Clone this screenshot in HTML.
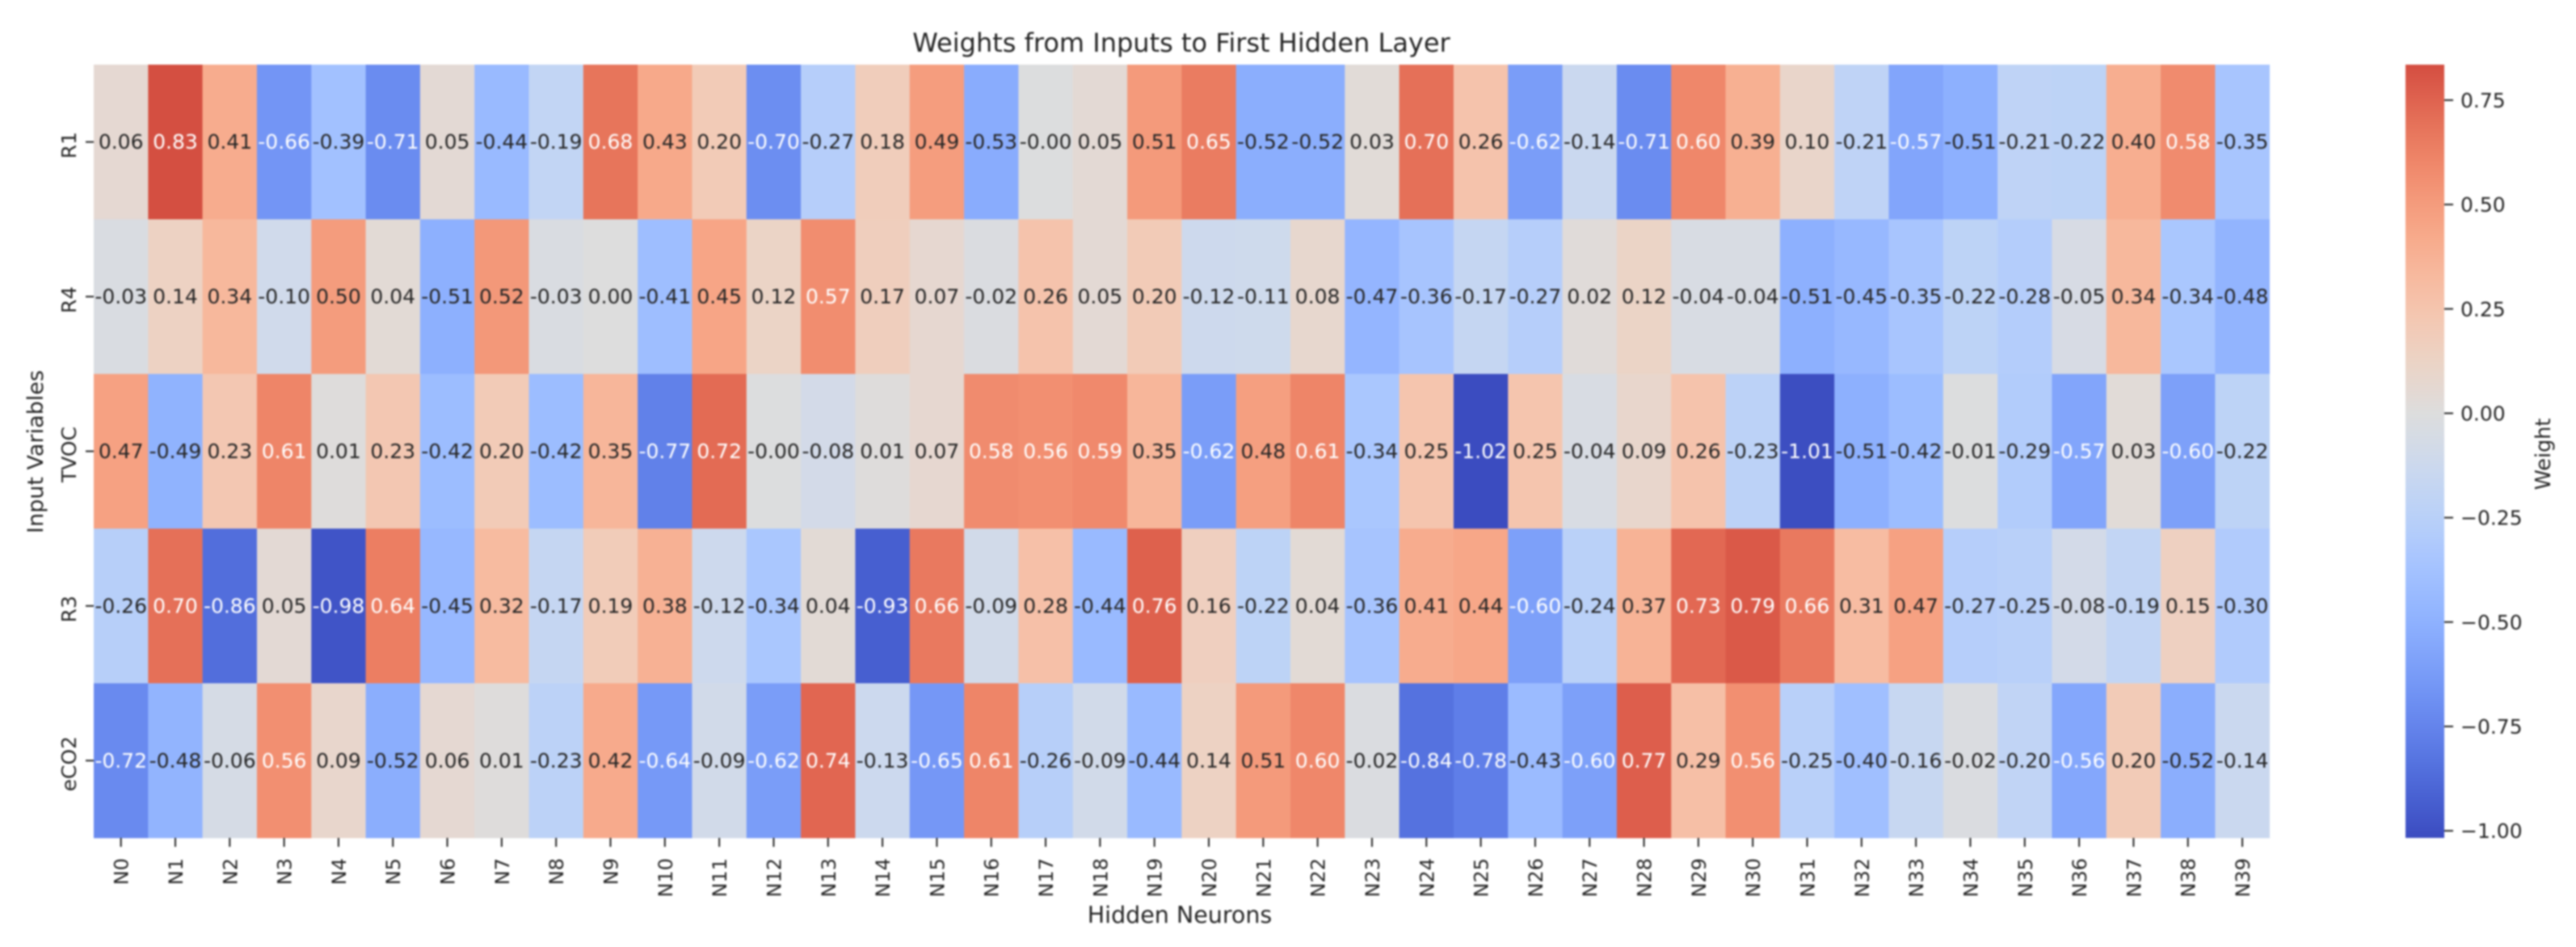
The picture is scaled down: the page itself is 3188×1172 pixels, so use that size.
<!DOCTYPE html>
<html lang="en">
<head>
<meta charset="utf-8">
<title>Weights from Inputs to First Hidden Layer</title>
<style>
html,body{margin:0;padding:0;background:#fff;width:3188px;height:1172px;overflow:hidden}
svg{display:block;filter:blur(1px)}
text{font-family:"DejaVu Sans","Liberation Sans",sans-serif;fill:#262626}
</style>
</head>
<body>
<svg id="chart" xmlns="http://www.w3.org/2000/svg" width="3188" height="1172" viewBox="0 0 3188 1172">
  <defs>
    <linearGradient id="cbar-gradient" x1="0" y1="1" x2="0" y2="0"></linearGradient>
  </defs>
  <rect x="0" y="0" width="3188" height="1172" fill="#ffffff"/>
  <g id="cells"></g>
  <g id="annotations"></g>
  <g id="x-axis"></g>
  <g id="y-axis"></g>
  <g id="colorbar">
    <rect x="2977" y="80" width="48" height="957" fill="url(#cbar-gradient)"/>
  </g>
  <text x="1462" y="64" font-size="32" text-anchor="middle">Weights from Inputs to First Hidden Layer</text>
  <text x="1460" y="1142" font-size="28.5" text-anchor="middle">Hidden Neurons</text>
  <text x="53" y="559" font-size="27" text-anchor="middle" transform="rotate(-90 53 559)">Input Variables</text>
  <text x="3156" y="562" font-size="25.5" text-anchor="middle" transform="rotate(-90 3156 562)">Weight</text>
</svg>
<script>
const neurons = ["N0","N1","N2","N3","N4","N5","N6","N7","N8","N9","N10","N11","N12","N13","N14","N15","N16","N17","N18","N19","N20","N21","N22","N23","N24","N25","N26","N27","N28","N29","N30","N31","N32","N33","N34","N35","N36","N37","N38","N39"];
const inputs = ["R1","R4","TVOC","R3","eCO2"];
const weightsR1 = [0.06,0.83,0.41,-0.66,-0.39,-0.71,0.05,-0.44,-0.19,0.68,0.43,0.20,-0.70,-0.27,0.18,0.49,-0.53,-0.004,0.05,0.51,0.65,-0.52,-0.52,0.03,0.70,0.26,-0.62,-0.14,-0.71,0.60,0.39,0.10,-0.21,-0.57,-0.51,-0.21,-0.22,0.40,0.58,-0.35];
const weightsR4 = [-0.03,0.14,0.34,-0.10,0.50,0.04,-0.51,0.52,-0.03,0.00,-0.41,0.45,0.12,0.57,0.17,0.07,-0.02,0.26,0.05,0.20,-0.12,-0.11,0.08,-0.47,-0.36,-0.17,-0.27,0.02,0.12,-0.04,-0.04,-0.51,-0.45,-0.35,-0.22,-0.28,-0.05,0.34,-0.34,-0.48];
const weightsTVOC = [0.47,-0.49,0.23,0.61,0.01,0.23,-0.42,0.20,-0.42,0.35,-0.77,0.72,-0.004,-0.08,0.01,0.07,0.58,0.56,0.59,0.35,-0.62,0.48,0.61,-0.34,0.25,-1.02,0.25,-0.04,0.09,0.26,-0.23,-1.01,-0.51,-0.42,-0.01,-0.29,-0.57,0.03,-0.60,-0.22];
const weightsR3 = [-0.26,0.70,-0.86,0.05,-0.98,0.64,-0.45,0.32,-0.17,0.19,0.38,-0.12,-0.34,0.04,-0.93,0.66,-0.09,0.28,-0.44,0.76,0.16,-0.22,0.04,-0.36,0.41,0.44,-0.60,-0.24,0.37,0.73,0.79,0.66,0.31,0.47,-0.27,-0.25,-0.08,-0.19,0.15,-0.30];
const weightsECO2 = [-0.72,-0.48,-0.06,0.56,0.09,-0.52,0.06,0.01,-0.23,0.42,-0.64,-0.09,-0.62,0.74,-0.13,-0.65,0.61,-0.26,-0.09,-0.44,0.14,0.51,0.60,-0.02,-0.84,-0.78,-0.43,-0.60,0.77,0.29,0.56,-0.25,-0.40,-0.16,-0.02,-0.20,-0.56,0.20,-0.52,-0.14];
const colorbarTicks = [0.75,0.50,0.25,0.00,-0.25,-0.50,-0.75,-1.00];
const coolwarmStops = ["3b4cc0","445acc","4d68d7","5775e1","6282ea","6c8ef1","779af7","82a5fb","8db0fe","98b9ff","a3c2ff","aec9fd","b8d0f9","c2d5f4","ccd9ee","d5dbe6","dddddd","e5d8d1","ecd3c5","f1ccb9","f5c4ad","f7bba0","f7b194","f7a687","f49a7b","f18d6f","ec7f63","e57058","de604d","d55042","cb3e38","c0282f","b40426"];

const NS = "http://www.w3.org/2000/svg";
const matrix = [weightsR1, weightsR4, weightsTVOC, weightsR3, weightsECO2];

const plotLeft = 116, plotRight = 2808.7, plotTop = 80, plotBottom = 1037;
const cbarTop = 80, cbarBottom = 1037, cbarLeft = 2977, cbarRight = 3025;
const cbarHigh = 0.835, cbarLow = -1.017;
const colorRange = 1.017;

function xLeft(i) { return plotLeft + (plotRight - plotLeft) * i / neurons.length; }
function yTop(j) { return plotTop + (plotBottom - plotTop) * j / inputs.length; }
function xCenter(i) { return xLeft(i + 0.5); }
function yCenter(j) { return yTop(j + 0.5); }
function cbarY(v) { return cbarTop + (cbarHigh - v) / (cbarHigh - cbarLow) * (cbarBottom - cbarTop); }

function coolwarmRgb(t) {
  t = Math.max(0, Math.min(1, t));
  const p = t * (coolwarmStops.length - 1);
  const a = Math.min(Math.floor(p), coolwarmStops.length - 2);
  const f = p - a;
  const out = [];
  for (let k = 0; k < 3; k++) {
    const c0 = parseInt(coolwarmStops[a].substr(k * 2, 2), 16);
    const c1 = parseInt(coolwarmStops[a + 1].substr(k * 2, 2), 16);
    out.push(c0 + (c1 - c0) * f);
  }
  return out;
}
function valueRgb(v) { return coolwarmRgb((v / colorRange + 1) / 2); }
function css(rgb) { return "rgb(" + rgb.map(Math.round).join(",") + ")"; }
function luminance(rgb) {
  const l = rgb.map(function (c) {
    const s = c / 255;
    return s <= 0.03928 ? s / 12.92 : Math.pow((s + 0.055) / 1.055, 2.4);
  });
  return 0.2126 * l[0] + 0.7152 * l[1] + 0.0722 * l[2];
}
function node(tag, parent, attrs, content) {
  const el = document.createElementNS(NS, tag);
  for (const key in attrs) el.setAttribute(key, attrs[key]);
  if (content !== undefined) el.textContent = content;
  parent.appendChild(el);
  return el;
}

const cellsGroup = document.getElementById("cells");
const annotationsGroup = document.getElementById("annotations");
const xAxisGroup = document.getElementById("x-axis");
const yAxisGroup = document.getElementById("y-axis");
const colorbarGroup = document.getElementById("colorbar");
const gradient = document.getElementById("cbar-gradient");

matrix.forEach(function (row, j) {
  row.forEach(function (v, i) {
    const rgb = valueRgb(v);
    const cell = node("rect", cellsGroup, {
      x: xLeft(i), y: yTop(j),
      width: xLeft(i + 1) - xLeft(i) + 0.3, height: yTop(j + 1) - yTop(j) + 0.3,
      fill: css(rgb)
    });
    
    
    const label = node("text", annotationsGroup, {
      x: xCenter(i), y: yCenter(j) + 8.5,
      "font-size": 25, "text-anchor": "middle",
      style: "fill:" + (luminance(rgb) > 0.408 ? "#262626" : "#ffffff")
    }, v.toFixed(2));
    
    
  });
});

neurons.forEach(function (name, i) {
  const cx = xCenter(i);
  const tick = node("line", xAxisGroup, { x1: cx, x2: cx, y1: plotBottom, y2: plotBottom + 11, stroke: "#262626", "stroke-width": 2 });
  
  
  const bx = cx + 9, by = plotBottom + 25;
  const label = node("text", xAxisGroup, {
    x: bx, y: by, "font-size": 24, "text-anchor": "end",
    transform: "rotate(-90 " + bx + " " + by + ")"
  }, name);
  
  
});

inputs.forEach(function (name, j) {
  const cy = yCenter(j);
  const tick = node("line", yAxisGroup, { x1: plotLeft - 10, x2: plotLeft, y1: cy, y2: cy, stroke: "#262626", "stroke-width": 2 });
  
  
  const bx = 94, by = cy + 4;
  const label = node("text", yAxisGroup, {
    x: bx, y: by, "font-size": 25, "text-anchor": "middle",
    transform: "rotate(-90 " + bx + " " + by + ")"
  }, name);
  
  
});

for (let s = 0; s <= 40; s++) {
  const f = s / 40;
  const v = cbarLow + (cbarHigh - cbarLow) * f;
  node("stop", gradient, { offset: f, "stop-color": css(valueRgb(v)) });
}

colorbarTicks.forEach(function (v) {
  const cy = cbarY(v);
  const tick = node("line", colorbarGroup, { x1: cbarRight, x2: cbarRight + 11, y1: cy, y2: cy, stroke: "#262626", "stroke-width": 2 });
  
  
  const label = node("text", colorbarGroup, { x: cbarRight + 20, y: cy + 9, "font-size": 25 }, v.toFixed(2).replace("-", "\u2212"));
  
  
});
</script>
</body>
</html>
